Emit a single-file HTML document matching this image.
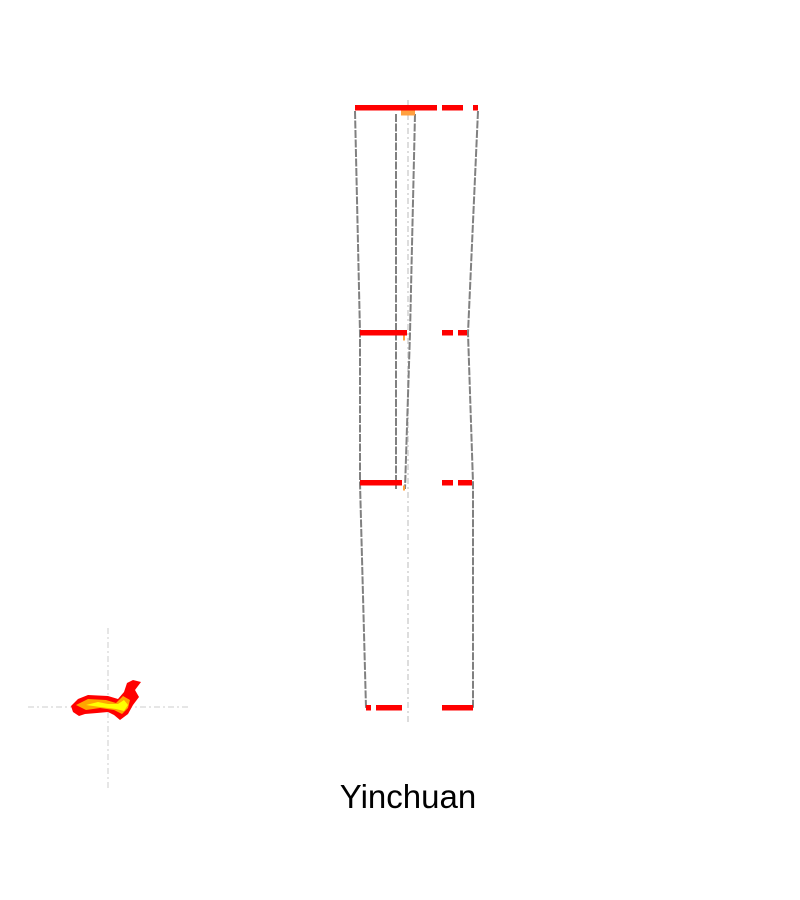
<!DOCTYPE html>
<html><head><meta charset="utf-8"><style>
html,body{margin:0;padding:0;background:#fff;}
svg{display:block;}
</style></head><body>
<svg id="chart" width="800" height="900">
<g id="crosshair">
<line x1="28" y1="707" x2="188" y2="707" stroke="#ddd" stroke-width="1.5" stroke-dasharray="6,3,2,3"/>
<line x1="108" y1="628" x2="108" y2="788" stroke="#ddd" stroke-width="1.5" stroke-dasharray="6,3,2,3"/>
</g>
<g>
<polygon points="71,706 78,699 88,695 108,696 118,699 124,692 127,683 133,680 141,682 135,690 139,697 133,705 128,714 120,720 114,715 108,712 97,713 85,714 79,716 73,712" fill="#f00"/>
<polygon points="76,705 88,699 106,700 116,703 123,696 130,700 128,708 122,714 114,710 100,708 86,710" fill="#ffa500"/>
<polygon points="86,705 98,702 108,704 118,704 124,700 128,705 124,711 116,709 100,707" fill="#ff0"/>
</g>
<text x="408" y="808" text-anchor="middle" font-family="'Liberation Sans', sans-serif" font-size="33" fill="#000">Yinchuan</text>
<g id="marks"></g>
</svg>
<script>
const levelY = [108, 333, 483, 708];
const redSegments = [
  [[355,437],[442,463],[473,478]],
  [[360,407],[442,453],[458,467]],
  [[360,402],[442,453],[458,472]],
  [[366,371],[376,402],[442,473]]
];
const leftOuterX = [355, 360, 360, 366];
const rightOuterX = [478, 468, 473, 473];
const innerLeftX = [396, 396, 396];
const innerRightX = [415, 410, 405];
const orangeX = [408, 404, 404];
const orangeW = [14, 2, 2];

const NS = 'http://www.w3.org/2000/svg';
const g = document.getElementById('marks');
function mk(tag, attrs) {
  const e = document.createElementNS(NS, tag);
  for (const k in attrs) e.setAttribute(k, attrs[k]);
  g.appendChild(e);
  return e;
}
function pts(xs, ys) { return xs.map((x, i) => x + ',' + ys[i]).join(' '); }

let c = mk('line', {x1: 408, y1: 100, x2: 408, y2: 722, stroke: '#ddd', 'stroke-width': 2, 'stroke-dasharray': '6,3,2,3'});



let ys = levelY.map((y, i) => i === 0 ? y + 3 : y);
const lineStyle = {fill: 'none', stroke: '#808080', 'stroke-width': 2, 'stroke-dasharray': '8,1.5'};
let l = mk('polyline', Object.assign({points: pts(leftOuterX, ys)}, lineStyle));


let r = mk('polyline', Object.assign({points: pts(rightOuterX, ys)}, lineStyle));


let innerYs = [114, 333, 489];
let il = mk('polyline', Object.assign({points: pts(innerLeftX, innerYs)}, lineStyle));


let ir = mk('polyline', Object.assign({points: pts(innerRightX, innerYs)}, lineStyle));



levelY.forEach((y, i) => {
  redSegments[i].forEach(s => {
    const rc = mk('rect', {x: s[0], y: y - 3, width: s[1] - s[0], height: 5.5, fill: '#f00'});
    
    
  });
  if (i < orangeX.length) {
    const o = mk('rect', {x: orangeX[i] - orangeW[i] / 2, y: y + 2.5, width: orangeW[i], height: 5, fill: '#ffa040'});
    
    
  }
});
</script>
</body></html>
